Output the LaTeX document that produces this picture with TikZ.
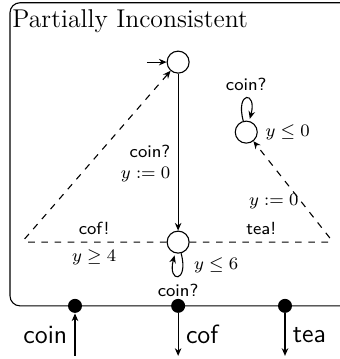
\documentclass[tikz,border=0pt]{standalone}
\usetikzlibrary{positioning, arrows.meta}

\begin{document}
\begin{tikzpicture}[>={Stealth[length=3.5pt,width=3pt]}, line width=0.5pt,
    every node/.style={font=\footnotesize},
    loc/.style={circle, draw, minimum size=0.352cm, inner sep=0pt},
    port/.style={circle, fill=black, minimum size=0.224cm, inner sep=0pt},
    act/.style={font=\footnotesize\sffamily},
    chan/.style={font=\large\sffamily}]
    \useasboundingbox (0,0) rectangle (5.44,5.744);
    \clip (0,0) rectangle (5.44,5.744);

    % Frame
    \draw[rounded corners=0.16cm] (0.16,0.85) rectangle (5.8,5.70);
    \node[anchor=base west, inner sep=0pt, font=\fontsize{11.7}{14}\selectfont] (title) at (0.19,5.31) {Partially Inconsistent};

    % Locations
    \node[loc] (s0) at (2.85,4.75) {};
    \node[loc] (s1) at (2.85,1.87) {};
    \node[loc, label=right:{$y\le 0$}] (s2) at (3.94,3.63) {};
    \node[anchor=west] (inv1) at (2.98,1.50) {$y\le 6$};
    \coordinate (init) at (2.35,4.75);
    \coordinate (lc) at (0.35,1.87);
    \coordinate (rc) at (5.33,1.87);

    % Edges
    \draw[->] (init) -- (s0);
    \draw[->] (s0) -- node[left, pos=0.57, align=right] {\sffamily coin?\\$y:=0$} (s1);
    \draw[->, dashed, rounded corners=2pt] (s1) -- node[act, above] {cof!} node[below] {$y\ge 4$} (lc) -- (s0);
    \draw[->, dashed, rounded corners=2pt] (s1) -- node[act, above] {tea!} (rc) -- node[left, pos=0.4, xshift=0.08cm] {$y:=0$} (s2);
    \path (s1) edge[->, loop below] node[act, below] {coin?} (s1);
    \path (s2) edge[->, loop above] node[act, above] {coin?} (s2);

    % Ports
    \node[port] (pcoin) at (1.2,0.85) {};
    \node[port] (pcof) at (2.85,0.85) {};
    \node[port] (ptea) at (4.56,0.85) {};
    \coordinate (ecoin) at (1.2,0.05);
    \coordinate (ecof) at (2.85,0.05);
    \coordinate (etea) at (4.56,0.05);
    \draw[->] (ecoin) -- node[chan, left] {coin} (pcoin);
    \draw[->] (pcof) -- node[chan, right] {cof} (ecof);
    \draw[->] (ptea) -- node[chan, right] {tea} (etea);
\end{tikzpicture}
\end{document}
